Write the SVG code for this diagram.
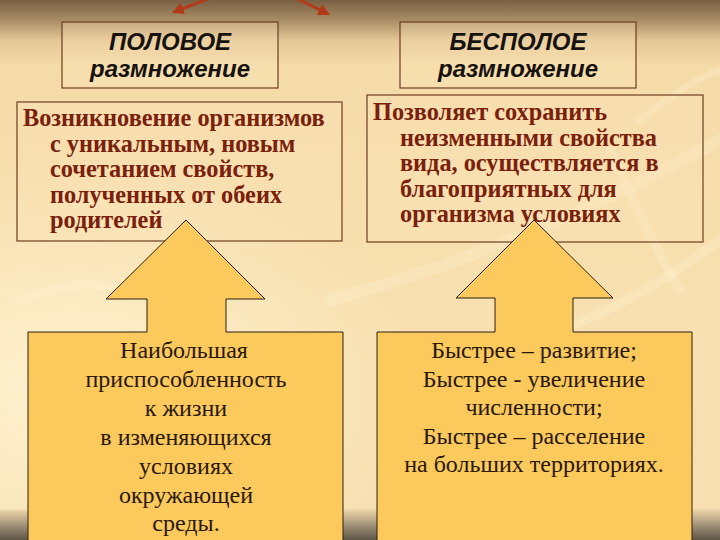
<svg xmlns="http://www.w3.org/2000/svg" width="720" height="540" viewBox="0 0 720 540">
  <defs>
    <linearGradient id="bg" x1="0" y1="0" x2="0" y2="1">
      <stop offset="0" stop-color="#7a6044"/>
      <stop offset="0.035" stop-color="#a68a62"/>
      <stop offset="0.075" stop-color="#e4c796"/>
      <stop offset="0.12" stop-color="#f5dba8"/>
      <stop offset="0.6" stop-color="#f8e0b0"/>
      <stop offset="0.94" stop-color="#f7dfb0"/>
      <stop offset="0.97" stop-color="#a8987c"/>
      <stop offset="1" stop-color="#5e5546"/>
    </linearGradient>
    <radialGradient id="glow" cx="0.1" cy="0.75" r="0.5">
      <stop offset="0" stop-color="#fff6d6" stop-opacity="0.8"/>
      <stop offset="1" stop-color="#fff6d6" stop-opacity="0"/>
    </radialGradient>
    <marker id="ah" viewBox="0 0 10 10" refX="8" refY="5" markerWidth="4" markerHeight="4" orient="auto">
      <path d="M0,0 L10,5 L0,10 z" fill="#b23a18"/>
    </marker>
    <style>
      .box { fill: #fbe6bb; fill-opacity: 0.3; stroke: #6e3c1e; stroke-width: 1.2; }
      .title { font-family: "Liberation Sans", Arial, sans-serif; font-weight: bold; font-style: italic; font-size: 24px; fill: #161210; text-anchor: middle; }
      .desc { font-family: "Liberation Serif", "Times New Roman", serif; font-weight: bold; font-size: 24.3px; fill: #7a200c; }
      .call { fill: #fbc95c; stroke: #2e2010; stroke-width: 1; }
      .ctext { font-family: "Liberation Serif", "Times New Roman", serif; font-size: 24px; fill: #2a1808; text-anchor: middle; }
      .conn { stroke: #b23a18; stroke-width: 3; fill: none; }
      .swoosh { fill: none; stroke: #fff8dc; stroke-opacity: 0.25; stroke-linecap: round; }
    </style>
  </defs>

  <!-- background -->
  <rect x="0" y="0" width="720" height="540" fill="url(#bg)"/>
  <rect x="0" y="40" width="720" height="470" fill="url(#glow)"/>
  <path class="swoosh" stroke-width="12" d="M330,300 Q520,250 720,140"/>
  <path class="swoosh" stroke-width="9" d="M610,150 Q640,220 680,290"/>
  <path class="swoosh" stroke-width="10" d="M560,330 Q640,300 720,240"/>
  <path class="swoosh" stroke-width="9" d="M20,300 Q90,270 160,300"/>
  <path class="swoosh" stroke-width="7" d="M640,120 Q690,80 720,70"/>

  <!-- connectors -->
  <g id="connectors">
    <line class="conn" x1="210" y1="-2" x2="174" y2="12" marker-end="url(#ah)"/>
    <line class="conn" x1="296" y1="-2" x2="328" y2="14" marker-end="url(#ah)"/>
  </g>

  <g id="title-sexual">
    <rect class="box" x="62" y="22" width="216" height="66"/>
    <text class="title" x="170" y="50">ПОЛОВОЕ</text>
    <text class="title" x="170" y="77">размножение</text>
  </g>

  <g id="title-asexual">
    <rect class="box" x="400" y="22" width="236" height="66"/>
    <text class="title" x="518" y="50">БЕСПОЛОЕ</text>
    <text class="title" x="518" y="77">размножение</text>
  </g>

  <g id="desc-sexual">
    <rect class="box" x="17" y="102" width="325" height="139"/>
    <text class="desc" x="23" y="126">Возникновение организмов</text>
    <text class="desc" x="50" y="151.5">с уникальным, новым</text>
    <text class="desc" x="50" y="177">сочетанием свойств,</text>
    <text class="desc" x="50" y="202.5">полученных от обеих</text>
    <text class="desc" x="50" y="228">родителей</text>
  </g>

  <g id="desc-asexual">
    <rect class="box" x="367" y="95" width="336" height="147"/>
    <text class="desc" x="373" y="120">Позволяет сохранить</text>
    <text class="desc" x="400" y="145.5">неизменными свойства</text>
    <text class="desc" x="400" y="171">вида, осуществляется в</text>
    <text class="desc" x="400" y="196.5">благоприятных для</text>
    <text class="desc" x="400" y="222">организма условиях</text>
  </g>

  <g id="callout-sexual">
    <path class="call" d="M186,220 L265,299 L226,299 L226,332 L343,332 L343,545 L28,545 L28,332 L147,332 L147,299 L106,299 Z"/>
    <text class="ctext" x="184" y="358">Наибольшая</text>
    <text class="ctext" x="186" y="387">приспособленность</text>
    <text class="ctext" x="186" y="416">к жизни</text>
    <text class="ctext" x="186" y="445">в изменяющихся</text>
    <text class="ctext" x="186" y="474">условиях</text>
    <text class="ctext" x="186" y="503">окружающей</text>
    <text class="ctext" x="186" y="531">среды.</text>
  </g>

  <g id="callout-asexual">
    <path class="call" d="M534,220 L613,298 L573,298 L573,332 L692,332 L692,545 L377,545 L377,332 L495,332 L495,298 L456,298 Z"/>
    <text class="ctext" x="534" y="358">Быстрее – развитие;</text>
    <text class="ctext" x="534" y="387">Быстрее - увеличение</text>
    <text class="ctext" x="534" y="415">численности;</text>
    <text class="ctext" x="534" y="444">Быстрее – расселение</text>
    <text class="ctext" x="534" y="472">на больших территориях.</text>
  </g>
</svg>
